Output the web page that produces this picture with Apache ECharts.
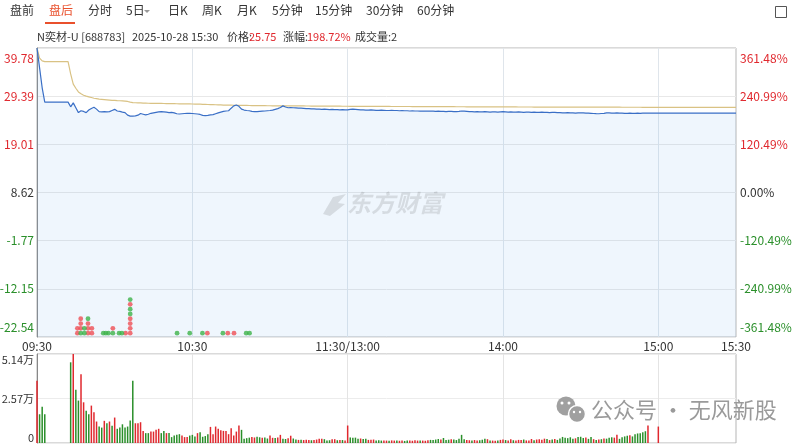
<!DOCTYPE html>
<html>
<head>
<meta charset="utf-8">
<script src="https://cdn.jsdelivr.net/npm/echarts@6/dist/echarts.min.js"></script>
<style>
  html, body { margin: 0; padding: 0; background: #fff; }
  #main { width: 800px; height: 446px; }
</style>
</head>
<body>
<div id="main"></div>
<script>
// 昨收
var PREV_CLOSE = 8.62;
var MAX_DEV = 31.16;   // 39.78 - 8.62

// 分时：09:30-11:30, 13:01-15:00, 盘后 15:01-15:30
var labelTimes = ['09:30', '10:30', '11:30', '14:00', '15:00', '15:30'];

var price = [
  39.78, 35.50, 31.20, 28.10, 28.10, 28.10, 28.10, 28.10, 28.10, 28.10,
  28.10, 28.10, 28.10, 27.10, 27.95, 26.90, 25.85, 26.25, 26.10, 25.85,
  26.40, 26.75, 27.00, 26.60, 26.05, 26.00, 26.05, 26.00, 26.05, 26.30,
  26.55, 26.20, 26.10, 25.95, 25.85, 25.30, 25.10, 25.10, 25.15, 25.30,
  25.65, 25.50, 25.35, 25.50, 25.70, 25.80, 25.90, 26.00, 26.05, 26.00,
  25.95, 25.85, 25.90, 25.80, 25.60, 25.55, 25.60, 25.65, 25.70, 25.70,
  25.65, 25.60, 25.55, 25.45, 25.25, 25.18, 25.25, 25.35, 25.40, 25.60,
  25.80, 25.95, 26.10, 26.20, 26.25, 26.80, 27.30, 27.50, 27.20, 26.60,
  26.40, 26.30, 26.25, 26.10, 26.05, 26.05, 26.10, 26.15, 26.20, 26.25,
  26.30, 26.40, 26.55, 26.70, 26.95, 27.30, 27.05, 26.90, 26.95, 26.90,
  26.85, 26.80, 26.80, 26.75, 26.70, 26.70, 26.65, 26.65, 26.60, 26.60,
  26.55, 26.60, 26.55, 26.50, 26.55, 26.50, 26.50, 26.45, 26.50, 26.45,
  26.45, 26.55, 26.60, 26.55, 26.50, 26.45, 26.45, 26.40, 26.40, 26.45,
  26.40, 26.35, 26.35, 26.40, 26.35, 26.30, 26.30, 26.35, 26.30, 26.30,
  26.25, 26.30, 26.25, 26.25, 26.20, 26.25, 26.20, 26.20, 26.15, 26.20,
  26.15, 26.15, 26.20, 26.15, 26.10, 26.15, 26.10, 26.10, 26.05, 26.10,
  26.10, 26.05, 26.05, 26.10, 26.20, 26.15, 26.10, 26.05, 26.05, 26.00,
  26.05, 26.00, 26.00, 26.05, 26.00, 25.95, 26.00, 26.00, 25.95, 26.00,
  26.05, 26.00, 25.95, 26.00, 25.95, 25.95, 26.00, 25.95, 25.90, 25.95,
  25.95, 25.90, 25.95, 25.90, 25.90, 25.95, 25.90, 25.90, 25.85, 25.90,
  25.90, 25.85, 25.85, 25.80, 25.80, 25.85, 25.80, 25.80, 25.75, 25.80,
  25.80, 25.80, 25.75, 25.75, 25.70, 25.65, 25.62, 25.60, 25.65, 25.70,
  25.80, 25.80, 25.75, 25.75, 25.80, 25.75, 25.75, 25.70, 25.70, 25.75,
  25.70, 25.70, 25.72, 25.70, 25.72, 25.74, 25.75, 25.75, 25.75, 25.75,
  25.75, 25.75, 25.75, 25.75, 25.75, 25.75, 25.75, 25.75, 25.75, 25.75,
  25.75, 25.75, 25.75, 25.75, 25.75, 25.75, 25.75, 25.75, 25.75, 25.75,
  25.75, 25.75, 25.75, 25.75, 25.75, 25.75, 25.75, 25.75, 25.75, 25.75,
  25.75
];

var avgPrice = [
  39.78, 37.60, 37.00, 36.85, 36.85, 36.85, 36.85, 36.85, 36.85, 36.85,
  36.85, 36.85, 36.85, 34.20, 32.00, 31.10, 30.30, 29.90, 29.60, 29.40,
  29.25, 29.10, 28.95, 28.85, 28.75, 28.70, 28.65, 28.60, 28.55, 28.50,
  28.47, 28.43, 28.40, 28.37, 28.33, 28.25, 28.10, 28.00, 27.97, 27.95,
  27.93, 27.91, 27.89, 27.87, 27.86, 27.85, 27.84, 27.83, 27.82, 27.81,
  27.80, 27.79, 27.78, 27.77, 27.76, 27.75, 27.74, 27.73, 27.72, 27.71,
  27.70, 27.69, 27.68, 27.66, 27.64, 27.62, 27.60, 27.58, 27.56, 27.54,
  27.52, 27.50, 27.48, 27.47, 27.46, 27.45, 27.44, 27.43, 27.42, 27.41,
  27.40, 27.39, 27.38, 27.37, 27.36, 27.35, 27.35, 27.34, 27.34, 27.33,
  27.33, 27.32, 27.32, 27.31, 27.31, 27.31, 27.30, 27.30, 27.30, 27.29,
  27.29, 27.29, 27.28, 27.28, 27.27, 27.27, 27.26, 27.26, 27.25, 27.25,
  27.25, 27.24, 27.24, 27.24, 27.23, 27.23, 27.23, 27.23, 27.22, 27.22,
  27.22, 27.21, 27.21, 27.21, 27.20, 27.20, 27.20, 27.20, 27.19, 27.19,
  27.19, 27.19, 27.18, 27.18, 27.18, 27.18, 27.18, 27.17, 27.17, 27.17,
  27.17, 27.16, 27.16, 27.16, 27.16, 27.15, 27.15, 27.15, 27.14, 27.14,
  27.14, 27.14, 27.14, 27.13, 27.13, 27.13, 27.13, 27.13, 27.12, 27.12,
  27.12, 27.12, 27.11, 27.11, 27.11, 27.11, 27.10, 27.10, 27.10, 27.10,
  27.10, 27.09, 27.09, 27.09, 27.09, 27.09, 27.08, 27.08, 27.08, 27.08,
  27.08, 27.07, 27.07, 27.07, 27.07, 27.07, 27.06, 27.06, 27.06, 27.06,
  27.06, 27.06, 27.05, 27.05, 27.05, 27.05, 27.05, 27.05, 27.04, 27.04,
  27.04, 27.04, 27.04, 27.04, 27.03, 27.03, 27.03, 27.03, 27.03, 27.03,
  27.03, 27.02, 27.02, 27.02, 27.02, 27.02, 27.02, 27.02, 27.01, 27.01,
  27.01, 27.01, 27.01, 27.01, 27.01, 27.01, 27.00, 27.00, 27.00, 27.00,
  27.00, 27.00, 27.00, 27.00, 26.99, 26.99, 26.99, 26.99, 26.99, 26.99,
  26.99, 26.99, 26.99, 26.99, 26.99, 26.99, 26.99, 26.99, 26.99, 26.99,
  26.99, 26.99, 26.99, 26.99, 26.99, 26.99, 26.99, 26.99, 26.99, 26.99,
  26.99, 26.99, 26.99, 26.99, 26.99, 26.99, 26.99, 26.99, 26.99, 26.99,
  26.99
];

var volume = [
  36000, 16600, 21000, 16600, 0, 0, 0, 0, 0, 0,
  0, 0, 0, 46600, 51400, 30700, 24500, 39700, 23500, 18600,
  16600, 21600, 17800, 12400, 9500, 8900, 12800, 11400, 12400, 9900,
  14700, 8200, 8900, 10800, 8900, 9500, 13000, 35900, 11400, 11400,
  12000, 7000, 5700, 5700, 6600, 6600, 7600, 8200, 5700, 7000,
  5700, 5800, 3400, 4300, 4700, 5100, 4300, 3400, 3400, 4300,
  4700, 3800, 5700, 6200, 3600, 4000, 5100, 9300, 5100, 9500,
  8200, 7400, 7000, 7000, 5100, 8500, 4300, 6600, 10100, 7600,
  2400, 2800, 3100, 3500, 3200, 3600, 3300, 3000, 3200, 2600,
  4300, 3000, 2900, 3200, 4700, 2500, 2300, 2800, 4200, 2600,
  2000, 1800, 1900, 1700, 1900, 1800, 1600, 1800, 2000, 2400,
  2400, 2200, 1500, 1600, 2100, 2200, 1600, 1800, 1700, 1500,
  10100, 3200, 3000, 3100, 2400, 2600, 2300, 2500, 1800, 1900,
  2000, 1500, 1600, 1400, 1500, 1400, 1300, 1500, 1400, 1500,
  1300, 1400, 1200, 1500, 1400, 1300, 1600, 1400, 1500, 1400,
  1300, 1600, 1800, 1700, 2000, 2300, 2000, 2900, 1700, 1900,
  2200, 2000, 1700, 2400, 4700, 2200, 1800, 1600, 1500, 1700,
  1500, 1600, 1900, 2400, 2200, 1500, 1400, 1300, 1500, 1800,
  2000, 1700, 1400, 2200, 1600, 1500, 1800, 1700, 2000, 1500,
  1400, 2300, 1600, 2000, 2200, 1900, 2500, 2300, 1700, 2000,
  2300, 1800, 2600, 3500, 3000, 2800, 3300, 2500, 2700, 3400,
  3600, 2900, 3200, 2400, 3400, 2200, 1700, 2000, 2200, 2600,
  2500, 3000, 3300, 3100, 4700, 2400, 3300, 3800, 4200, 4500,
  3800, 5000, 5500, 5700, 6200, 6800, 10100, 0, 0, 0,
  9500, 0, 0, 0, 0, 0, 0, 0, 0, 0,
  0, 0, 0, 0, 0, 0, 0, 0, 0, 0,
  0, 0, 0, 0, 0, 0, 0, 0, 0, 0,
  2
];

// 每分钟柱色：r = 红, g = 绿（每行 10 分钟）
var volSideRows = [
  'rggggggggg', 'ggggrggrrg', 'grrrggrgrg', 'rgggggggrr', 'rrggrrrrgg',
  'rgggggrrrg', 'ggrggggrrr', 'rrrrrrrrrg', 'gggrrggrgg', 'rrgrrggrrg',
  'grgrrrgrrr', 'rgggrrgrgr', 'rggggrggrr', 'rgggrrgrrg', 'rrggrrrrgr',
  'rrggggrggg', 'rgggggrrgr', 'rgggrgrrgr', 'rgrrgrrrgr', 'rrgrrrrgrg',
  'rgggggggrg', 'ggrggrgrgr', 'gggrrggggr', 'ggggggrggg', 'rrrrrrrrrr',
  'rrrrrrrrrr', 'rrrrrrrrrr', 'r'
];
var volSide = volSideRows.join('').split('');

// 左下角红绿点：分钟位置、层数、红/绿
var dotMinute = [15.6, 15.6, 16.9, 16.9, 16.9, 16.9, 18.3, 18.3, 19.7, 19.7, 19.7, 19.7, 21.2, 21.2,
  25.6, 26.6, 27.6, 29.3, 29.3, 31.7, 32.8, 34.2,
  36.0, 36.0, 36.0, 36.0, 36.0, 36.0, 36.0, 36.0,
  54.1, 59.0, 63.9, 65.8, 71.8, 73.7, 76.1, 80.8, 82.1];
var dotLevel = [1, 2, 1, 2, 3, 4, 1, 2, 1, 2, 3, 4, 1, 2,
  1, 1, 1, 1, 2, 1, 1, 1,
  1, 2, 3, 4, 5, 6, 7, 8,
  1, 1, 1, 1, 1, 1, 1, 1, 1];
var dotSide = ['r', 'r', 'g', 'r', 'r', 'r', 'g', 'g', 'r', 'r', 'r', 'g', 'r', 'r',
  'g', 'g', 'g', 'g', 'r', 'g', 'g', 'r',
  'r', 'r', 'r', 'r', 'g', 'g', 'r', 'g',
  'g', 'g', 'g', 'r', 'g', 'r', 'r', 'g', 'g'];

var RED = '#e0282e';
var GREEN = '#2a8f2a';
var FONT = '"Noto Sans CJK SC", "Noto Sans", sans-serif';

function pad(n) { return (n < 10 ? '0' : '') + n; }
var times = [];
function addRange(h0, m0, h1, m1) {
  for (var t = h0 * 60 + m0; t <= h1 * 60 + m1; t++) {
    times.push(pad(Math.floor(t / 60)) + ':' + pad(t % 60));
  }
}
addRange(9, 30, 11, 30);
addRange(13, 1, 15, 0);
addRange(15, 1, 15, 30);

var STEP = MAX_DEV / 3;

function labelColor(v) {
  if (Math.abs(v) < 1e-6) return '#333';
  return v > 0 ? RED : GREEN;
}
// 最上/最下的刻度文字往里挪一点
function edgeWrap(v, s) {
  if (v > MAX_DEV - 1e-6) return '{top|' + s + '}';
  if (v < -MAX_DEV + 1e-6) return '{bot|' + s + '}';
  return s;
}
var edgeRich = {
  top: { color: RED, fontSize: 12, fontFamily: FONT, padding: [4, 0, 0, 0] },
  bot: { color: GREEN, fontSize: 12, fontFamily: FONT, padding: [0, 0, 4, 0] }
};

var chart = echarts.init(document.getElementById('main'));

var redDots = [], greenDots = [];
for (var i = 0; i < dotMinute.length; i++) {
  (dotSide[i] === 'r' ? redDots : greenDots).push([dotMinute[i], dotLevel[i]]);
}

function txt(x, y, s, color, size) {
  return { type: 'text', left: x, top: y, style: { text: s, fill: color, font: size + 'px ' + FONT } };
}

var option = {
  animation: false,
  textStyle: { fontFamily: FONT },
  grid: [
    { left: 37, right: 64, top: 48, height: 289, show: true, borderColor: '#b5b5b5', borderWidth: 1, outerBoundsMode: 'none' },
    { left: 37, right: 64, top: 354, height: 89, show: true, borderColor: '#b5b5b5', borderWidth: 1, outerBoundsMode: 'none' }
  ],
  xAxis: [
    {
      type: 'category', gridIndex: 0, data: times, boundaryGap: false,
      axisLine: { show: false }, axisTick: { show: false },
      axisLabel: {
        color: '#333', fontSize: 12, margin: 3, fontFamily: FONT,
        interval: function (idx, val) { return labelTimes.indexOf(val) >= 0; },
        formatter: function (val) { return val === '11:30' ? '11:30/13:00' : val; }
      },
      splitLine: { show: true, interval: 59, lineStyle: { color: '#dfe5eb' } }
    },
    {
      type: 'category', gridIndex: 1, data: times, boundaryGap: false,
      axisLine: { show: false }, axisTick: { show: false }, axisLabel: { show: false },
      splitLine: { show: true, interval: 59, lineStyle: { color: '#e4e4e4' } }
    },
    { type: 'value', gridIndex: 0, min: 0, max: times.length - 1, show: false }
  ],
  yAxis: [
    {
      type: 'value', gridIndex: 0, min: -3 * STEP, max: 3 * STEP, interval: STEP,
      axisLine: { show: true, lineStyle: { color: '#888' } }, axisTick: { show: false },
      axisLabel: {
        fontSize: 12, margin: 3, fontFamily: FONT,
        color: function (v) { return labelColor(+v); },
        formatter: function (v) { return edgeWrap(v, (v + PREV_CLOSE).toFixed(2)); },
        rich: edgeRich,
        verticalAlignMaxLabel: 'top', verticalAlignMinLabel: 'bottom'
      },
      splitLine: { lineStyle: { color: '#e8e8e8' } }
    },
    {
      type: 'value', gridIndex: 0, position: 'right', min: -3 * STEP, max: 3 * STEP, interval: STEP,
      axisLine: { show: false }, axisTick: { show: false },
      axisLabel: {
        fontSize: 12, margin: 4, fontFamily: FONT,
        color: function (v) { return labelColor(+v); },
        formatter: function (v) { return edgeWrap(v, (v / PREV_CLOSE * 100).toFixed(2) + '%'); },
        rich: edgeRich,
        verticalAlignMaxLabel: 'top', verticalAlignMinLabel: 'bottom'
      },
      splitLine: { show: false }
    },
    { type: 'value', gridIndex: 0, min: 0.2, max: 60.4, show: false },
    {
      type: 'value', gridIndex: 1, min: 0, max: 51400, interval: 25700,
      axisLine: { show: true, lineStyle: { color: '#888' } }, axisTick: { show: false },
      axisLabel: {
        color: '#333', fontSize: 11, margin: 3, fontFamily: FONT,
        formatter: function (v) { return v === 0 ? '0' : (v / 10000).toFixed(2) + '万'; },
        verticalAlignMaxLabel: 'top', verticalAlignMinLabel: 'bottom'
      },
      splitLine: { lineStyle: { color: '#ececec' } }
    }
  ],
  series: [
    {
      name: '价格', type: 'line', xAxisIndex: 0, yAxisIndex: 0,
      data: price.map(function (p) { return +(p - PREV_CLOSE).toFixed(4); }),
      showSymbol: false, z: 4,
      lineStyle: { color: '#3a6fc6', width: 1.2 },
      areaStyle: { color: 'rgba(120,180,240,0.12)', origin: 'start', opacity: 1 }
    },
    {
      name: '均价', type: 'line', xAxisIndex: 0, yAxisIndex: 0,
      data: avgPrice.map(function (p) { return +(p - PREV_CLOSE).toFixed(4); }),
      showSymbol: false, z: 3,
      lineStyle: { color: '#d9c284', width: 1.2 }
    },
    {
      type: 'scatter', xAxisIndex: 2, yAxisIndex: 2, data: redDots,
      symbolSize: 4.8, itemStyle: { color: '#ef4f55' }, z: 5
    },
    {
      type: 'scatter', xAxisIndex: 2, yAxisIndex: 2, data: greenDots,
      symbolSize: 4.8, itemStyle: { color: '#3db34a' }, z: 5
    },
    {
      name: '成交量', type: 'bar', xAxisIndex: 1, yAxisIndex: 3, barWidth: 1.5,
      data: volume.map(function (v, i) {
        return { value: v, itemStyle: { color: volSide[i] === 'r' ? RED : GREEN } };
      })
    }
  ],
  graphic: [
    // 顶部工具栏
    txt(10, 4, '盘前', '#333', 12),
    txt(49, 4, '盘后', '#e9502c', 12),
    { type: 'rect', shape: { x: 45, y: 22, width: 30, height: 2 }, style: { fill: '#e9502c' } },
    txt(88, 4, '分时', '#333', 12),
    txt(126, 4, '5日', '#333', 12),
    { type: 'polygon', shape: { points: [[144, 10], [150, 10], [147, 13]] }, style: { fill: '#999' } },
    txt(168, 4, '日K', '#333', 12),
    txt(202, 4, '周K', '#333', 12),
    txt(237, 4, '月K', '#333', 12),
    txt(272, 4, '5分钟', '#333', 12),
    txt(315, 4, '15分钟', '#333', 12),
    txt(366, 4, '30分钟', '#333', 12),
    txt(417, 4, '60分钟', '#333', 12),
    { type: 'rect', shape: { x: 775.5, y: 6.5, width: 11, height: 11 }, style: { fill: '#fff', stroke: '#555', lineWidth: 1 } },
    // 信息行
    txt(37, 31, 'N奕材-U [688783]', '#333', 11),
    txt(132, 31, '2025-10-28 15:30', '#333', 11),
    txt(227, 31, '价格:', '#333', 11),
    txt(249, 31, '25.75', RED, 11),
    txt(283, 31, '涨幅:', '#333', 11),
    txt(307, 31, '198.72%', RED, 11),
    txt(355, 31, '成交量:2', '#333', 11),
    // 水印
    { type: 'polygon', z: 100, shape: { points: [[323, 214], [333, 197], [346, 194], [338, 203], [345, 204], [330, 216]] }, style: { fill: 'rgba(0,0,0,0.11)' } },
    { type: 'text', left: 347, top: 191, z: 100, style: { text: '东方财富', fill: 'rgba(0,0,0,0.11)', font: 'bold italic 24px ' + FONT } },
    { type: 'circle', z: 100, shape: { cx: 566, cy: 406, r: 9.5 }, style: { fill: '#a0a0a0' } },
    { type: 'circle', z: 101, shape: { cx: 577, cy: 414, r: 8.5 }, style: { fill: '#a0a0a0', stroke: '#fff', lineWidth: 1.5 } },
    { type: 'circle', z: 102, shape: { cx: 562, cy: 403, r: 1.5 }, style: { fill: '#fff' } },
    { type: 'circle', z: 102, shape: { cx: 569, cy: 403, r: 1.5 }, style: { fill: '#fff' } },
    { type: 'circle', z: 102, shape: { cx: 574, cy: 412, r: 1.2 }, style: { fill: '#fff' } },
    { type: 'circle', z: 102, shape: { cx: 580, cy: 412, r: 1.2 }, style: { fill: '#fff' } },
    { type: 'text', left: 591, top: 399, z: 100, style: { text: '公众号 · 无风新股', fill: '#9a9a9a', font: '22px ' + FONT } }
  ]
};

chart.setOption(option);
window.addEventListener('resize', function () { chart.resize(); });
</script>
</body>
</html>
